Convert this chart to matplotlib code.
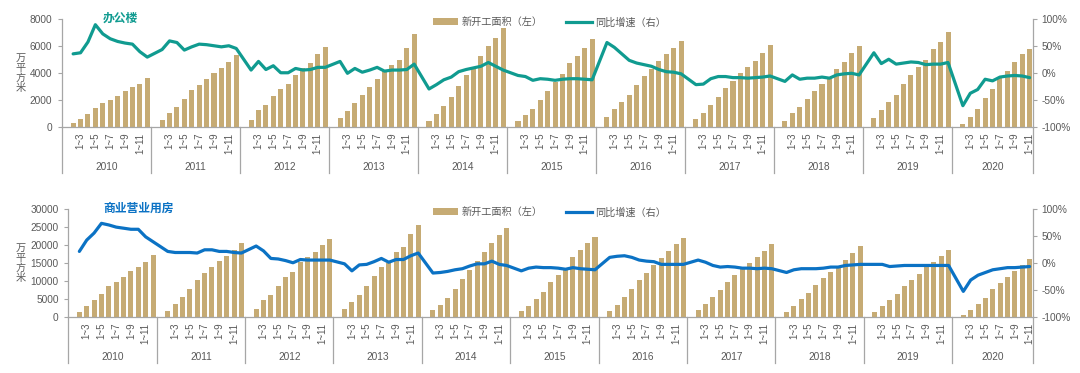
import matplotlib
matplotlib.use("Agg")
import matplotlib.pyplot as plt
from matplotlib.transforms import blended_transform_factory
from matplotlib.lines import Line2D
from matplotlib.patches import Patch

plt.rcParams['font.family'] = ['Liberation Sans', 'Noto Sans CJK SC', 'DejaVu Sans']

# ---------------- data ----------------
years = [2010, 2011, 2012, 2013, 2014, 2015, 2016, 2017, 2018, 2019, 2020]
month_labels = ["1~3", "1~5", "1~7", "1~9", "1~11"]

# 办公楼 新开工面积 (万平方米), periods 1~2 ... 1~12 (2020: to 1~11)
office_area = [
    320, 640, 960, 1410, 1830, 2020, 2350, 2670, 2960, 3230, 3650,
    520, 1040, 1530, 2100, 2770, 3110, 3580, 4000, 4420, 4840, 5360,
    570, 1280, 1630, 2350, 2810, 3210, 3900, 4370, 4740, 5430, 5980,
    690, 1230, 1780, 2370, 2960, 3580, 4200, 4590, 5010, 5880, 6890,
    500, 960, 1580, 2260, 3070, 3840, 4370, 5280, 6000, 6650, 7330,
    450, 890, 1360, 2000, 2680, 3380, 3920, 4740, 5250, 5840, 6540,
    740, 1370, 1840, 2390, 3110, 3800, 4330, 4920, 5430, 5900, 6400,
    620, 1090, 1680, 2250, 2940, 3430, 4050, 4440, 4910, 5480, 6120,
    490, 1090, 1480, 2070, 2720, 3210, 3600, 4310, 4860, 5470, 6030,
    690, 1280, 1900, 2420, 3210, 3900, 4440, 4990, 5780, 6350, 7060,
    250, 790, 1360, 2150, 2810, 3630, 4200, 4810, 5410, 5800,
]
# 办公楼 同比增速 (%)
office_yoy = [
    36, 38, 58, 90, 73, 64, 59, 56, 54, 40, 30,
    44, 60, 57, 43, 49, 54, 53, 51, 49, 51, 46,
    6, 22, 7, 14, 1, 1, 9, 6, 7, 11, 11,
    22, 0, 9, 2, 6, 11, 4, 6, 6, 7, 17,
    -29, -21, -12, -7, 3, 7, 10, 13, 20, 13, 6,
    -4, -6, -13, -10, -11, -13, -11, -10, -10, -11, -12,
    57, 48, 36, 24, 19, 16, 13, 7, 3, 2, -1,
    -21, -20, -10, -6, -6, -8, -8, -9, -8, -7, -5,
    -15, -3, -11, -9, -9, -7, -9, -3, -1, 0, -3,
    38, 18, 26, 17, 19, 21, 20, 16, 17, 17, 20,
    -60, -37, -30, -11, -14, -7, -5, -4, -5, -8,
]
# 商业营业用房 新开工面积 (万平方米)
retail_area = [
    1390, 3150, 4720, 6570, 8700, 9810, 11110, 12780, 14070, 15460, 17220,
    1670, 3700, 5740, 7960, 10370, 12220, 14070, 15740, 17040, 18700, 20560,
    2410, 4810, 6300, 8700, 11110, 12500, 15370, 16760, 18150, 20090, 21850,
    2410, 4170, 6200, 8610, 11570, 13890, 15190, 18150, 19630, 23150, 25740,
    2040, 3430, 5280, 7780, 10560, 13150, 15650, 18060, 20560, 22870, 24910,
    1660, 3150, 5000, 7040, 9720, 11800, 13700, 16850, 18700, 20560, 22310,
    1670, 3430, 5740, 7960, 10370, 12410, 14440, 16480, 18520, 20280, 22130,
    2040, 3700, 5560, 7590, 9910, 11760, 13700, 15190, 16850, 18520, 20370,
    1570, 3150, 5000, 6760, 8980, 10830, 12590, 13610, 16020, 17870, 19910,
    1570, 3150, 4810, 6480, 8700, 10370, 12040, 13890, 15370, 17040, 18800,
    650, 2130, 3700, 5280, 7780, 9440, 11110, 12870, 14540, 16110,
]
# 商业营业用房 同比增速 (%)
retail_yoy = [
    22, 43, 56, 74, 71, 67, 65, 63, 63, 49, 40,
    22, 20, 20, 20, 19, 25, 25, 22, 22, 20, 19,
    32, 23, 9, 8, 5, 1, 7, 6, 6, 6, 6,
    -1, -14, -3, -2, 3, 9, 2, 7, 7, 14, 19,
    -18, -17, -15, -12, -10, -5, -1, -1, 4, -2, -4,
    -14, -9, -7, -8, -8, -9, -11, -8, -10, -11, -12,
    11, 13, 14, 11, 6, 4, 3, -2, -2, -2, -2,
    6, 2, -4, -7, -6, -7, -9, -9, -10, -9, -10,
    -17, -12, -10, -10, -10, -9, -7, -7, -4, -3, -2,
    -2, -2, -6, -5, -4, -4, -4, -4, -4, -4, -4,
    -52, -31, -22, -17, -12, -10, -8, -8, -7, -6,
]

# ---------------- styles ----------------
W, H = 1080, 373
BAR_C = "#C6AB74"
TEAL = "#109B90"
BLUE = "#0B72C4"
AXC = "#A6A6A6"
TXT = "#595959"

# category slots: 12 per year (January slot empty), 2020 ends at 1~11
slots = [12 * yi + k for yi in range(len(years)) for k in range(1, 12)][:len(office_area)]
n_slots = 12 * (len(years) - 1) + 11
tick_pos = [12 * yi + k for yi in range(len(years)) for k in (2, 4, 6, 8, 10)]
tick_lab = month_labels * len(years)

fig = plt.figure(figsize=(W / 100, H / 100), dpi=100)


def px_axes(left, right, top, bottom):
    return fig.add_axes([left / W, 1 - bottom / H, (right - left) / W, (bottom - top) / H])


def panel(left, top, area, yoy, ymax, ystep, lcolor, title, title_x):
    bottom = top + 108
    right = 1033.3
    ax = px_axes(left, right, top, bottom)
    ax.bar(slots, area, width=0.68, color=BAR_C, zorder=2)
    ax.set_xlim(-0.5, n_slots - 0.5)
    ax.set_ylim(0, ymax)
    ax.set_yticks(range(0, ymax + 1, ystep))
    ax.set_xticks(tick_pos)
    ax.set_xticklabels(tick_lab, rotation=90, fontsize=7, color=TXT)
    ax.tick_params(axis='x', length=0, pad=4)
    ax.tick_params(axis='y', length=3, width=0.8, color=AXC, labelsize=7.3,
                   labelcolor=TXT, pad=4)
    for s in ('top', 'right'):
        ax.spines[s].set_visible(False)
    for s in ('left', 'bottom'):
        ax.spines[s].set_color(AXC)
        ax.spines[s].set_linewidth(0.9)

    ax2 = ax.twinx()
    ax2.plot(slots, yoy, color=lcolor, lw=2.3, solid_joinstyle='round',
             solid_capstyle='round', zorder=3)
    ax2.set_ylim(-100, 100)
    ax2.set_yticks([-100, -50, 0, 50, 100])
    ax2.set_yticklabels(["-100%", "-50%", "0%", "50%", "100%"])
    ax2.tick_params(axis='y', length=3, width=0.8, color=AXC, labelsize=7.3,
                    labelcolor=TXT, pad=3)
    for s in ('top', 'left', 'bottom'):
        ax2.spines[s].set_visible(False)
    ax2.spines['right'].set_color(AXC)
    ax2.spines['right'].set_linewidth(0.9)

    # extended category axis with year groups
    depth = 46 / 108
    tr = blended_transform_factory(ax.transData, ax.transAxes)
    bounds = [-0.5] + [12 * yi - 0.5 for yi in range(1, len(years))] + [n_slots - 0.5]
    for b in bounds:
        ax.plot([b, b], [0, -depth], transform=tr, color=AXC, lw=0.9, clip_on=False)
    for yi, yr in enumerate(years):
        x0 = bounds[yi]
        x1 = bounds[yi + 1]
        ax.text((x0 + x1) / 2, -39.5 / 108, str(yr), transform=tr, ha='center',
                va='center', fontsize=7.3, color=TXT)

    # y unit label (stacked)
    fig.text(20.7 / W, 1 - (top + 54) / H, "\n".join("万平方米"), ha='center',
             va='center', fontsize=7.3, color=TXT, linespacing=1.0,
             family=['Noto Sans CJK SC'])
    # title
    fig.text(title_x / W, 1 - (top - 1) / H, title, ha='left', va='center',
             fontsize=8.5, fontweight='bold', color=lcolor,
             family=['Noto Sans CJK SC'])
    # legend
    handles = [Patch(facecolor=BAR_C, edgecolor='none'),
               Line2D([], [], color=lcolor, lw=2.3)]
    fig.legend(handles, ["新开工面积（左）", "同比增速（右）"], loc='center left',
               bbox_to_anchor=(433 / W, 1 - (top + 3) / H), ncol=2, frameon=False,
               fontsize=7.3, handlelength=2.5, handletextpad=0.35,
               columnspacing=2.3, borderpad=0, borderaxespad=0,
               labelcolor=TXT, prop={'family': ['Noto Sans CJK SC'], 'size': 7.3})
    return ax


panel(62.0, 19.3, office_area, office_yoy, 8000, 2000, TEAL, "办公楼", 103)
panel(68.3, 209.3, retail_area, retail_yoy, 30000, 5000, BLUE, "商业营业用房", 103)

fig.savefig("out.png", dpi=100, facecolor='white')
